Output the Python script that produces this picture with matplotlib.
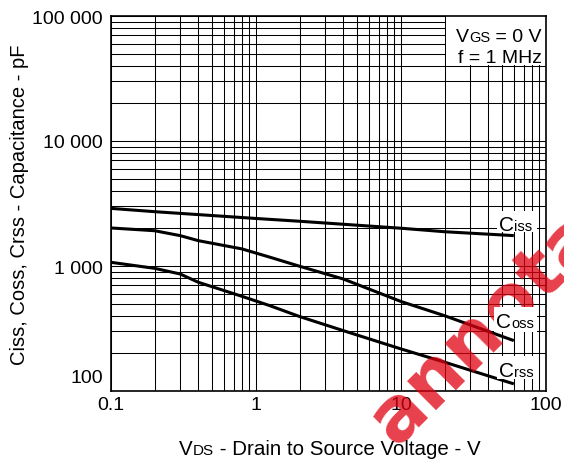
import matplotlib
matplotlib.use("Agg")
import matplotlib.pyplot as plt
from matplotlib.patches import Rectangle
from matplotlib.transforms import IdentityTransform
from matplotlib.ticker import FixedLocator, NullFormatter

plt.rcParams['font.family'] = ['Liberation Sans', 'DejaVu Sans']

# ---- data ----
vds_iss = [0.1, 0.2, 1, 2, 10, 20, 60]
ciss = [2890, 2720, 2400, 2280, 2005, 1880, 1750]
vds_oc = [0.1, 0.2, 0.3, 0.4, 0.8, 1.25, 2, 4, 10, 20, 60]
coss = [2015, 1915, 1750, 1595, 1370, 1175, 995, 787, 520, 400, 253]
crss = [1070, 958, 863, 741, 572, 481, 394, 304, 217, 170, 114]

x_ticks = [0.1, 1, 10, 100]
x_ticklabels = ['0.1', '1', '10', '100']
y_ticks = [100, 1000, 10000, 100000]
y_ticklabels = ['', '1 000', '10 000', '100 000']

W, H = 564, 464
fig = plt.figure(figsize=(W / 100, H / 100), dpi=100)
ax = fig.add_axes([111 / W, (H - 392) / H, 435 / W, 375 / H])
ax.set_xscale('log')
ax.set_yscale('log')
ax.set_xlim(0.1, 100)
ax.set_ylim(100, 100000)
ax.set_xticks(x_ticks)
ax.set_xticklabels(x_ticklabels)
ax.set_yticks(y_ticks)
ax.set_yticklabels(y_ticklabels)
minor_x = [m * d for d in (0.1, 1, 10) for m in range(2, 10)]
minor_y = [m * d for d in (100, 1000, 10000) for m in range(2, 10)]
ax.xaxis.set_minor_locator(FixedLocator(minor_x))
ax.yaxis.set_minor_locator(FixedLocator(minor_y))
ax.xaxis.set_minor_formatter(NullFormatter())
ax.yaxis.set_minor_formatter(NullFormatter())
ax.tick_params(which='both', length=0, labelsize=14, colors='black')
ax.tick_params(axis='x', pad=3.6)
ax.tick_params(axis='y', pad=5.8)
ax.set_axisbelow(True)
ax.grid(True, which='both', color='black', lw=0.75)
for s in ax.spines.values():
    s.set_linewidth(1.2)
    s.set_color('black')

ax.annotate('100', xy=(0, 100), xycoords=('axes fraction', 'data'),
            xytext=(-8, 13), textcoords='offset pixels', ha='right', va='center',
            fontsize=14)

# legend white box
ax.add_patch(Rectangle((20.4, 40600), 100 - 20.4, 100000 - 40600, fc='white',
                       ec='none', zorder=1))

ax.plot(vds_iss, ciss, color='black', lw=2.2, zorder=2, solid_capstyle='butt')
ax.plot(vds_oc, coss, color='black', lw=2.2, zorder=2, solid_capstyle='butt')
ax.plot(vds_oc, crss, color='black', lw=2.2, zorder=2, solid_capstyle='butt')

renderer = fig.canvas.get_renderer()


def rich(x_px, base_px, pieces, ha='left', box=None):
    texts = []
    for s, size in pieces:
        t = fig.text(0, 0, s, fontsize=size, va='baseline', ha='left', zorder=6)
        texts.append(t)
    widths = [t.get_window_extent(renderer).width for t in texts]
    total = sum(widths)
    x0 = x_px - total * {'left': 0, 'center': 0.5, 'right': 1}[ha]
    for t, w in zip(texts, widths):
        t.set_position((x0 / W, 1 - base_px / H))
        x0 += w
    if box is not None:
        left_px, right_px, top_px, bot_px = box
        fig.add_artist(Rectangle((left_px, H - bot_px), right_px - left_px,
                                 bot_px - top_px, fc='white', ec='none',
                                 transform=IdentityTransform(), zorder=5))
    return texts


# legend text
rich(542, 42, [('V', 14), ('GS', 10.5), (' = 0 V', 14)], ha='right')
rich(542, 63, [('f = 1 MHz', 14)], ha='right')

# curve labels
rich(499, 231, [('C', 15), ('iss', 10.5)], box=(497, 537, 212, 233))
rich(496, 328, [('C', 15), ('oss', 10.5)], box=(494, 537, 308, 333))
rich(499, 377, [('C', 15), ('rss', 10.5)], box=(497, 535, 357, 380))

# x label
rich(330, 455, [('V', 14.8), ('DS', 11), (' - Drain to Source Voltage - V', 14.8)],
     ha='center')

# y label
fig.text(20 / W, 1 - 205 / H, 'Ciss, Coss, Crss - Capacitance - pF', rotation=90,
         ha='center', va='center', fontsize=14.5)

# watermark
fig.text(0.702, 0.0366, 'annotated', rotation=45, rotation_mode='anchor',
         ha='left', va='baseline', fontsize=54, fontweight='bold',
         family='DejaVu Sans', color='#e00010', alpha=0.75, zorder=4)

fig.savefig('out.png', dpi=100)
